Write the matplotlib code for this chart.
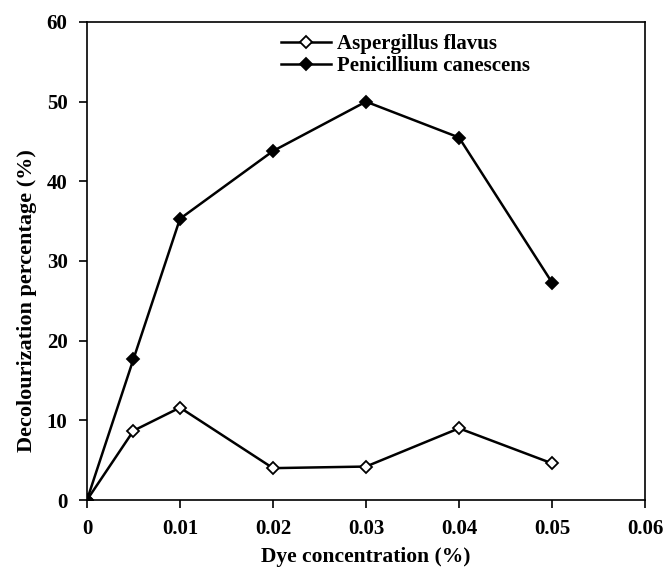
import numpy as np
import matplotlib
matplotlib.use('Agg')
import matplotlib.pyplot as plt

plt.rcParams['font.family'] = ['Liberation Serif', 'DejaVu Serif']
plt.rcParams['font.weight'] = 'bold'

conc = [0, 0.005, 0.01, 0.02, 0.03, 0.04, 0.05]
aspergillus = [0, 8.7, 11.6, 4.0, 4.2, 9.0, 4.6]
penicillium = [0, 17.7, 35.3, 43.8, 50.0, 45.5, 27.3]

xticks = [0, 0.01, 0.02, 0.03, 0.04, 0.05, 0.06]
xticklabels = ['0', '0.01', '0.02', '0.03', '0.04', '0.05', '0.06']
yticks = [0, 10, 20, 30, 40, 50, 60]

fig = plt.figure(figsize=(6.66, 5.68), dpi=100)
ax = fig.add_axes([0.1306, 0.1197, 0.8379, 0.8416])

ax.plot(conc, aspergillus, '-D', color='black', lw=1.8, ms=6,
        mfc='white', mec='black', mew=1.3, label='Aspergillus flavus')
ax.plot(conc, penicillium, '-D', color='black', lw=1.8, ms=6,
        mfc='black', mec='black', mew=1.3, label='Penicillium canescens')

ax.set_xlim(0, 0.06)
ax.set_ylim(0, 60)
ax.set_xticks(xticks)
ax.set_xticklabels(xticklabels)
ax.set_yticks(yticks)
ax.tick_params(direction='out', length=6, width=1.2, labelsize=15, pad=8)
for s in ax.spines.values():
    s.set_linewidth(1.2)

ax.set_xlabel('Dye concentration (%)', fontsize=15.5, fontweight='bold')
ax.set_ylabel('Decolourization percentage (%)', fontsize=16, fontweight='bold')
ax.xaxis.set_label_coords(0.5, -0.098)
ax.yaxis.set_label_coords(-0.09, 0.418)

ax.legend(loc='upper left', bbox_to_anchor=(0.348, 0.975), frameon=False,
          fontsize=15, handlelength=2.4, handletextpad=0.3, labelspacing=0.1,
          borderpad=0, borderaxespad=0)

fig.savefig('out.png', dpi=100)
